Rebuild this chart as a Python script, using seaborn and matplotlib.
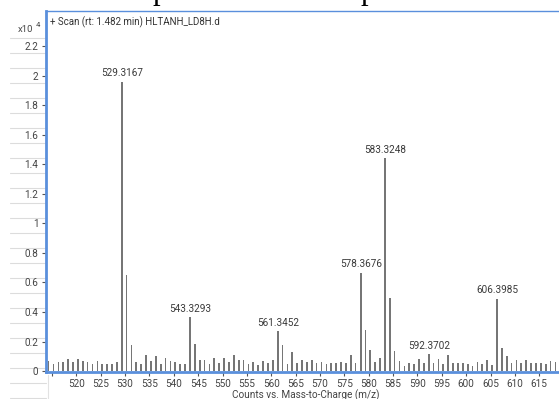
import matplotlib
matplotlib.use("Agg")
import matplotlib.pyplot as plt
from matplotlib.lines import Line2D
import seaborn as sns
import pandas as pd

# Mass spectrum, intensities in units of 10^4 counts
labelled_mz = [529.3167, 543.3293, 561.3452, 578.3676, 583.3248, 592.3702, 606.3985]
labelled_counts = [1.96, 0.365, 0.27, 0.665, 1.442, 0.113, 0.49]

# Remaining sticks, one per nominal mass (centroid near n + 0.32)
nominal_mass = list(range(514, 619))
nominal_counts = [
    0.068, 0.050, 0.060, 0.060, 0.080, 0.060, 0.085, 0.070, 0.065, 0.050,  # 514-523
    0.070, 0.050, 0.050, 0.045, 0.065, None, 0.653, 0.174, 0.065, 0.045,   # 524-533
    0.106, 0.070, 0.100, 0.050, 0.090, 0.068, 0.060, 0.050, 0.045, None,   # 534-543
    0.185, 0.075, 0.075, 0.045, 0.090, 0.052, 0.090, 0.060, 0.110, 0.072,  # 544-553
    0.075, 0.045, 0.060, 0.040, 0.068, 0.056, 0.072, None, 0.180, 0.050,   # 554-563
    0.130, 0.052, 0.072, 0.060, 0.072, 0.056, 0.060, 0.045, 0.056, 0.052,  # 564-573
    0.060, 0.052, 0.106, 0.056, None, 0.280, 0.140, 0.060, 0.090, None,    # 574-583
    0.496, 0.135, 0.068, 0.034, 0.056, 0.050, 0.083, 0.056, None, 0.052,   # 584-593
    0.079, 0.045, 0.106, 0.056, 0.056, 0.056, 0.045, 0.034, 0.060, 0.045,  # 594-603
    0.072, 0.038, None, 0.158, 0.100, 0.056, 0.072, 0.056, 0.072, 0.052,   # 604-613
    0.052, 0.056, 0.045, 0.068, 0.060,                                     # 614-618
]

x_ticks = list(range(515, 620, 5))
x_tick_labels = [""] + [str(v) for v in x_ticks[1:]]
y_ticks = [0, 0.2, 0.4, 0.6, 0.8, 1, 1.2, 1.4, 1.6, 1.8, 2, 2.2]
y_tick_labels = ["0", "0.2", "0.4", "0.6", "0.8", "1", "1.2", "1.4", "1.6", "1.8", "2", "2.2"]

title = "+ Scan (rt: 1.482 min) HLTANH_LD8H.d"
x_label = "Counts vs. Mass-to-Charge (m/z)"

# Build the stick table
mz = list(labelled_mz)
counts = list(labelled_counts)
for m, c in zip(nominal_mass, nominal_counts):
    if c is not None:
        mz.append(m + 0.32)
        counts.append(c)
spectrum = pd.DataFrame({"mz": mz, "counts": counts}).sort_values("mz")

sns.set_theme(style="white")
plt.rcParams["font.family"] = ["Roboto", "DejaVu Sans"]

W, H = 559, 399
fig = plt.figure(figsize=(W / 100, H / 100), dpi=100)
fig.patch.set_facecolor("white")


def fx(px):
    return px / W


def fy(py):
    return 1 - py / H


# faint sheet grid behind the chart (left margin)
y = 38.3
while y < H:
    fig.add_artist(Line2D([fx(10), fx(46)], [fy(y), fy(y)], color="#dcdcdc", lw=0.8, zorder=0))
    y += 15.0
for vx in (48,):
    fig.add_artist(Line2D([fx(vx), fx(vx)], [fy(375), fy(H)], color="#e2e2e2", lw=0.8, zorder=0))

left_px, right_px, top_px, bottom_px = 46, 620, 11, 371.7
ax = fig.add_axes([fx(left_px), fy(bottom_px), fx(right_px - left_px), (bottom_px - top_px) / H])
ax.set_facecolor("white")

sns.barplot(data=spectrum, x="mz", y="counts", native_scale=True, width=0.38,
            color="#767676", saturation=1, errorbar=None, linewidth=0, ax=ax)

px_per_unit = 4.873
x0 = 513.78
ax.set_xlim(x0, x0 + (right_px - left_px) / px_per_unit)
ax.set_ylim(-0.004, (bottom_px - top_px) / 148.0)

for m, c in zip(labelled_mz, labelled_counts):
    ax.annotate(f"{m:.4f}", (m, c), xytext=(0, 2.5), textcoords="offset points",
                ha="center", va="bottom", fontsize=7.2, color="#3a3a3a")

ax.set_xticks(x_ticks)
ax.set_xticklabels(x_tick_labels)
ax.set_yticks(y_ticks)
ax.set_yticklabels(y_tick_labels)
ax.tick_params(axis="both", which="major", labelsize=7.2, labelcolor="#444444",
               color="#555555", length=3, width=0.8, pad=2.5,
               bottom=True, left=True)
ax.set_xlabel("")
ax.set_ylabel("")

blue = "#5a8fdc"
for side in ("left", "bottom"):
    ax.spines[side].set_color(blue)
    ax.spines[side].set_linewidth(2.0)
ax.spines["top"].set_color(blue)
ax.spines["top"].set_linewidth(1.0)
ax.spines["right"].set_visible(False)

ax.text(0.007, 0.968, title, transform=ax.transAxes, ha="left", va="center",
        fontsize=7, color="#333333")

fig.text(fx(33), fy(30), "x10", ha="right", va="center", fontsize=6.8, color="#444444")
fig.text(fx(36), fy(25), "4", ha="left", va="center", fontsize=5.5, color="#444444")

fig.text(fx(306), fy(395), x_label, ha="center", va="center", fontsize=7.2, color="#444444")

# clipped lines of surrounding document text at the very top
fig.text(fx(160), fy(-1), "p", ha="center", va="baseline", fontsize=22,
         family="Liberation Serif", color="black")
fig.text(fx(368), fy(-1), "p", ha="center", va="baseline", fontsize=22,
         family="Liberation Serif", color="black")

fig.savefig("out.png", dpi=100, facecolor="white")
